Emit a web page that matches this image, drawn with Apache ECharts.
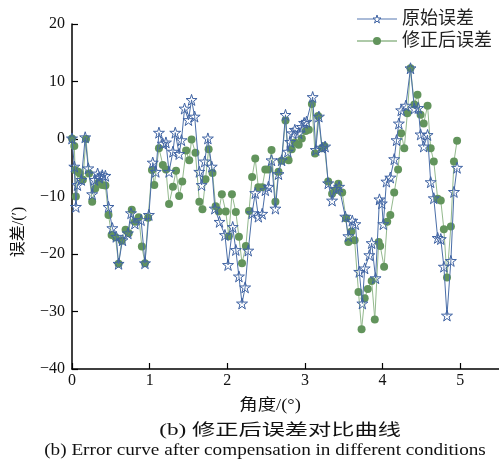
<!DOCTYPE html>
<html>
<head>
<meta charset="utf-8">
<script src="https://cdn.jsdelivr.net/npm/echarts@6/dist/echarts.min.js"></script>
<style>
  html, body { margin: 0; padding: 0; background: #ffffff; }
  #chart { width: 499px; height: 464px; }
</style>
</head>
<body>
<div id="chart"></div>
<script>
// Angle (deg) and error (arc-min) before compensation
const angleOrig = [0.00,0.03,0.05,0.07,0.12,0.17,0.21,0.26,0.29,0.33,0.35,0.39,0.43,0.47,0.52,0.57,0.60,0.65,0.72,0.76,0.81,0.89,0.94,0.99,
  1.04,1.08,1.12,1.17,1.21,1.25,1.30,1.33,1.38,1.41,1.45,1.50,1.54,1.58,1.64,1.67,1.71,1.75,1.80,1.84,1.90,1.97,
  2.01,2.07,2.11,2.15,2.19,2.23,2.27,2.32,2.36,2.40,2.45,2.49,2.53,2.57,2.62,2.66,2.70,2.75,2.78,2.81,2.84,2.87,2.92,2.96,2.99,
  3.02,3.10,3.14,3.18,3.22,3.26,3.30,3.35,3.40,3.44,3.52,3.56,3.61,3.65,3.70,3.74,3.77,3.83,3.86,3.91,3.96,3.99,
  4.01,4.05,4.10,4.15,4.18,4.21,4.24,4.30,4.36,4.41,4.46,4.49,4.53,4.58,4.62,4.66,4.71,4.75,4.79,4.83,4.88,4.92,4.96];
const errOrig = [0.1,-4.8,-11.8,-8.0,-7.1,0.3,-5.1,-9.6,-7.1,-6.0,-6.7,-6.3,-6.4,-11.8,-15.5,-17.0,-21.7,-17.6,-16.4,-12.9,-14.7,-14.1,-21.6,-13.2,
  -4.1,-5.7,1.1,-0.8,-0.6,-5.7,-2.2,1.1,-2.6,-0.2,5.3,3.3,6.8,3.9,-5.7,-8.0,-3.9,0.1,-4.8,-12.1,-14.4,-16.7,
  -21.9,-15.3,-19.3,-23.9,-28.6,-25.8,-19.4,-12.9,-9.4,-13.5,-13.0,-8.9,-8.3,-3.7,-12.1,-6.1,-3.7,4.2,-2.2,-0.5,1.0,1.6,1.0,2.1,2.8,
  3.0,7.3,-1.9,3.9,-1.5,-1.3,-7.7,-10.7,-8.7,-8.3,-13.5,-16.9,-14.2,-14.8,-23.1,-28.6,-22.5,-20.2,-18.1,-24.2,-10.5,-11.2,
  -14.8,-7.4,-6.7,-3.5,-0.2,2.7,5.0,5.8,12.3,5.3,5.4,0.8,-1.3,0.7,-7.5,-10.3,-17.2,-17.4,-22.2,-30.7,-21.2,-9.2,-5.0];

// Angle (deg) and error (arc-min) after compensation
const angleComp = [0.00,0.03,0.04,0.05,0.08,0.10,0.14,0.18,0.22,0.26,0.30,0.34,0.39,0.43,0.47,0.51,0.56,0.60,0.64,0.69,0.73,0.77,0.81,0.86,0.90,0.94,0.98,
  1.03,1.06,1.12,1.17,1.21,1.25,1.30,1.34,1.38,1.42,1.47,1.51,1.54,1.59,1.64,1.68,1.72,1.76,1.81,1.85,1.89,1.93,1.98,
  2.02,2.06,2.11,2.15,2.19,2.24,2.28,2.32,2.36,2.40,2.45,2.49,2.53,2.57,2.62,2.66,2.70,2.75,2.79,2.83,2.87,2.92,2.96,
  3.01,3.05,3.09,3.13,3.17,3.22,3.25,3.30,3.35,3.39,3.43,3.48,3.53,3.56,3.60,3.64,3.69,3.73,3.77,3.81,3.86,3.90,3.95,3.97,
  4.02,4.06,4.10,4.15,4.20,4.24,4.28,4.32,4.36,4.41,4.45,4.49,4.53,4.58,4.62,4.66,4.71,4.75,4.79,4.83,4.88,4.92,4.96];
const errComp = [0.1,-1.2,-5.4,-10.0,-5.7,-6.0,-7.1,0.0,-6.0,-10.9,-8.6,-7.6,-8.0,-8.1,-13.2,-16.7,-17.1,-21.7,-17.7,-15.8,-16.4,-12.3,-14.4,-13.6,-18.7,-21.6,-13.7,
  -5.4,-8.0,-1.6,-4.5,-5.3,-11.3,-8.3,-5.5,-9.9,-7.4,-2.0,-3.7,-0.1,-2.4,-10.9,-12.2,-7.0,-1.8,-5.9,-11.7,-12.6,-9.6,-12.6,
  -16.9,-9.6,-12.7,-17.0,-21.6,-18.6,-12.5,-6.6,-3.4,-8.4,-8.4,-5.3,-5.3,-1.9,-10.9,-5.7,-3.8,3.2,-3.7,-1.8,-0.6,-1.0,0.1,
  1.4,1.6,6.1,-2.5,4.0,-1.6,-1.2,-7.4,-9.5,-8.9,-7.8,-9.3,-13.8,-17.9,-16.1,-17.6,-26.6,-33.1,-27.7,-26.1,-24.7,-31.4,-17.9,-18.6,
  -22.2,-14.4,-13.2,-9.3,-5.3,1.0,-1.6,4.5,12.3,6.0,7.7,4.2,2.7,5.8,-1.6,-3.9,-10.4,-10.7,-15.7,-24.1,-15.2,-3.9,-0.3];

const xTicks = [0, 1, 2, 3, 4, 5];
const seriesNames = ['原始误差', '修正后误差'];

const serif = '"Liberation Serif", "Times New Roman", "Noto Sans CJK SC", serif';
const starPath = 'path://M50,2 L61,37 L98,37 L68,59 L79,95 L50,73 L21,95 L32,59 L2,37 L39,37 Z';

const blueLine = '#4a6ea8', blueMark = '#3f63a3';
const greenLine = '#93b98d', greenMark = '#62945c';

const pairs = (xs, ys) => xs.map((x, i) => [x, ys[i]]);

const chart = echarts.init(document.getElementById('chart'), null, { renderer: 'canvas' });
chart.setOption({
  backgroundColor: '#ffffff',
  animation: false,
  grid: { left: 72, top: 24, right: 0, bottom: 95, containLabel: false },
  legend: {
    right: 2, top: 5, orient: 'vertical', itemGap: 4,
    itemWidth: 40, itemHeight: 10,
    textStyle: { fontFamily: serif, fontSize: 18, color: '#222' },
    data: [
      { name: seriesNames[0],
        itemStyle: { color: '#ffffff', borderColor: blueMark, borderWidth: 1 },
        lineStyle: { color: '#8ea5cb', width: 1.5 } },
      { name: seriesNames[1],
        itemStyle: { color: greenMark },
        lineStyle: { color: greenLine, width: 1.5 } }
    ]
  },
  xAxis: {
    type: 'value', min: 0, max: 5.5, interval: 1,
    axisLine: { onZero: false, lineStyle: { color: '#000', width: 1.5 } },
    axisTick: { inside: true, length: 6, customValues: xTicks, lineStyle: { color: '#000', width: 1.2 } },
    axisLabel: { customValues: xTicks, fontFamily: serif, fontSize: 16, color: '#111', margin: 4 },
    splitLine: { show: false }
  },
  yAxis: {
    type: 'value', min: -40, max: 20, interval: 10,
    axisLine: { show: true, onZero: false, lineStyle: { color: '#000', width: 1.5 } },
    axisTick: { show: true, inside: true, length: 6, lineStyle: { color: '#000', width: 1.2 } },
    axisLabel: { fontFamily: serif, fontSize: 16, color: '#111', margin: 7,
      formatter: v => (v < 0 ? '\u2212' + Math.abs(v) : String(v)) },
    splitLine: { show: false }
  },
  graphic: [
    { type: 'text', x: 19, y: 232, rotation: Math.PI / 2,
      style: { text: '误差/(′)', fontFamily: serif, fontSize: 16, fill: '#111', align: 'center', verticalAlign: 'middle' } },
    { type: 'text', x: 270, y: 406, scaleX: 1.15,
      style: { text: '角度/(°)', fontFamily: serif, fontSize: 16, fill: '#111', align: 'center', verticalAlign: 'middle' } },
    { type: 'text', x: 280, y: 431, scaleX: 1.45,
      style: { text: '(b) 修正后误差对比曲线', fontFamily: serif, fontSize: 16, fill: '#111', align: 'center', verticalAlign: 'middle' } },
    { type: 'text', x: 265, y: 451, scaleX: 1.2,
      style: { text: '(b) Error curve after compensation in different conditions', fontFamily: serif, fontSize: 16, fill: '#111', align: 'center', verticalAlign: 'middle' } }
  ],
  series: [
    {
      name: seriesNames[0], type: 'line', z: 4,
      data: pairs(angleOrig, errOrig),
      symbol: starPath, symbolSize: 11, showAllSymbol: true,
      lineStyle: { color: blueLine, width: 1 },
      itemStyle: { color: 'rgba(255,255,255,0)', borderColor: blueMark, borderWidth: 1 }
    },
    {
      name: seriesNames[1], type: 'line', z: 3,
      data: pairs(angleComp, errComp),
      symbol: 'circle', symbolSize: 8, showAllSymbol: true,
      lineStyle: { color: greenLine, width: 1 },
      itemStyle: { color: greenMark, borderWidth: 0 }
    }
  ]
});
</script>
</body>
</html>
